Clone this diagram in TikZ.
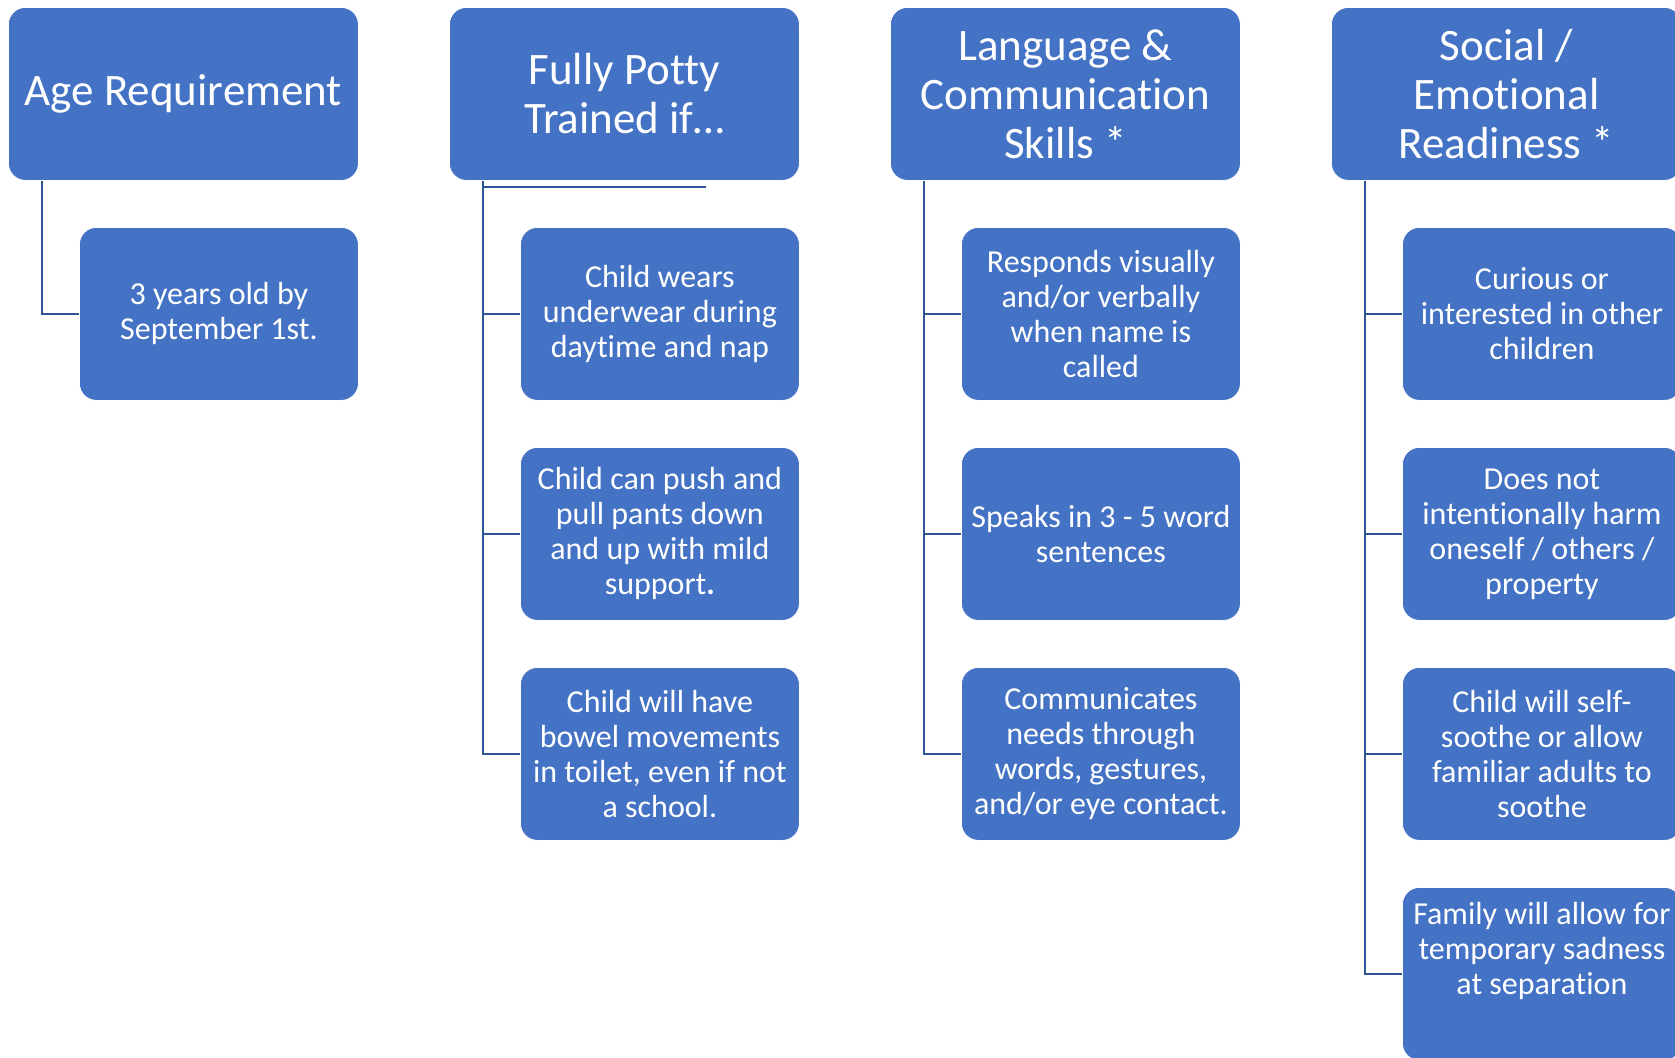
\documentclass[tikz,border=0pt]{standalone}
\usepackage{fontspec}
\setmainfont{Carlito}[Ligatures={NoCommon}]
\definecolor{boxblue}{HTML}{4472C4}
\definecolor{linkblue}{HTML}{2F5597}
\begin{document}
\begin{tikzpicture}[x=1pt,y=-1pt,
  head/.style={draw=white, line width=0.8pt, fill=boxblue, rounded corners=17pt,
    minimum width=350pt, minimum height=173pt, anchor=north west, align=center,
    text=white, inner sep=0pt, font=\fontsize{45}{49}\selectfont},
  item/.style={draw=white, line width=0.8pt, fill=boxblue, rounded corners=17pt,
    minimum width=279pt, minimum height=173pt, anchor=north west, align=center,
    text=white, inner sep=0pt, font=\fontsize{32}{35}\selectfont},
  link/.style={draw=linkblue, line width=2.8pt}]
\useasboundingbox (0,0) rectangle (1675,1057);
\clip (0,0) rectangle (1675,1057);

% headers
\node[head] (h1) at (8,7) {Age Requirement};
\node[head] (h2) at (449,7) {Fully Potty\\Trained if…};
\node[head] (h3) at (890,7) {Language \&\\Communication\\Skills *};
\node[head] (h4) at (1331,7) {Social /\\Emotional\\Readiness *};

% column 1
\node[item] (c11) at (79,227) {3 years old by\\September 1st.};

% column 2
\node[item] (c21) at (520,227) {Child wears\\underwear during\\daytime and nap};
\node[item] (c22) at (520,447) {Child can push and\\pull pants down\\and up with mild\\support\textbf{.}};
\node[item] (c23) at (520,667) {Child will have\\bowel movements\\in toilet, even if not\\a school.};

% column 3
\node[item] (c31) at (961,227) {Responds visually\\and/or verbally\\when name is\\called};
\node[item] (c32) at (961,447) {Speaks in 3 - 5 word\\sentences};
\node[item] (c33) at (961,667) {Communicates\\needs through\\words, gestures,\\and/or eye contact.};

% column 4
\node[item] (c41) at (1402,227) {Curious or\\interested in other\\children};
\node[item] (c42) at (1402,447) {Does not\\intentionally harm\\oneself / others /\\property};
\node[item] (c43) at (1402,667) {Child will self-\\soothe or allow\\familiar adults to\\soothe};
\node[item, text depth=52pt] (c44) at (1402,887) {Family will allow for\\temporary sadness\\at separation};

% connectors
\coordinate (t1) at ([xshift=34pt]h1.south west);
\coordinate (t2) at ([xshift=34pt]h2.south west);
\coordinate (t3) at ([xshift=34pt]h3.south west);
\coordinate (t4) at ([xshift=34pt]h4.south west);
\coordinate (e2) at (706,187);

\draw[link] (t1) |- (c11.west);
\draw[link] (t2) |- (c21.west);
\draw[link] (t2) |- (c22.west);
\draw[link] (t2) |- (c23.west);
\draw[link, line width=2.2pt] (t2 |- e2) -- (e2);
\draw[link] (t3) |- (c31.west);
\draw[link] (t3) |- (c32.west);
\draw[link] (t3) |- (c33.west);
\draw[link] (t4) |- (c41.west);
\draw[link] (t4) |- (c42.west);
\draw[link] (t4) |- (c43.west);
\draw[link] (t4) |- (c44.west);
\end{tikzpicture}
\end{document}
